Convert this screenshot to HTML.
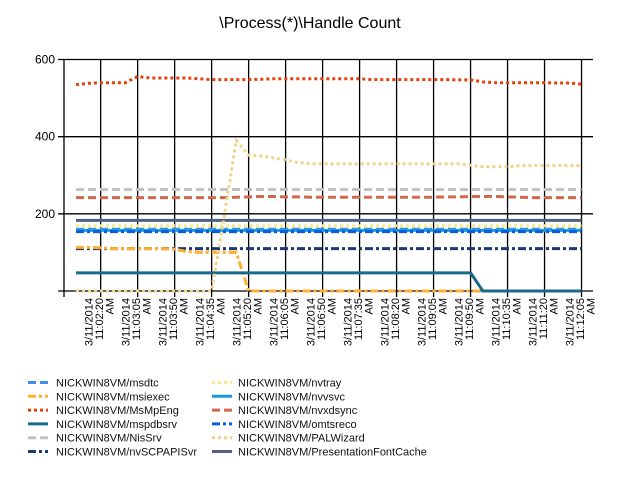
<!DOCTYPE html>
<html><head><meta charset="utf-8"><style>
body{margin:0;background:#fff;font-family:"Liberation Sans",sans-serif}
svg text{font-family:"Liberation Sans",sans-serif}
</style></head><body>
<svg id="c" width="620" height="480" xmlns="http://www.w3.org/2000/svg">
<text x="310" y="28" text-anchor="middle" font-size="16">\Process(*)\Handle Count</text>
<g id="grid"></g><g id="series"></g><g id="xlabels"></g><g id="legend"></g>
</svg>
<script>
const yTicks=[0,200,400,600];
const tickIdx=[2,5,8,11,14,17,20,23,26,29,32,35,38,41];
const tickTimes=["11:02:20","11:03:05","11:03:50","11:04:35","11:05:20","11:06:05","11:06:50","11:07:35","11:08:20","11:09:05","11:09:50","11:10:35","11:11:20","11:12:05"];
const names=["msdtc","msiexec","MsMpEng","mspdbsrv","NisSrv","nvSCPAPISvr","nvtray","nvvsvc","nvxdsync","omtsreco","PALWizard","PresentationFontCache"];
const vMsdtc=[160,160,160,160,160,160,160,160,160,160,160,160,160,160,160,160,160,160,160,160,160,160,160,160,160,160,160,160,160,160,160,160,160,160,160,160,160,160,160,160,160,160];
const vMsiexec=[113,113,112,110,110,110,110,110,108,102,100,100,100,100,0,0,0,0,0,0,0,0,0,0,0,0,0,0,0,0,0,0,0,0,0,0,0,0,0,0,0,0];
const vMsMpEng=[535,538,540,540,540,556,552,552,552,552,550,548,548,548,548,549,550,550,550,550,550,550,550,550,548,548,548,548,548,548,548,547,547,542,540,540,540,540,540,539,539,536];
const vMspdbsrv=[47,47,47,47,47,47,47,47,47,47,47,47,47,47,47,47,47,47,47,47,47,47,47,47,47,47,47,47,47,47,47,47,47,0,0,0,0,0,0,0,0,0];
const vNisSrv=[263,263,263,263,263,263,263,263,263,263,263,263,263,263,263,263,263,263,263,263,263,263,263,263,263,263,263,263,263,263,263,263,263,263,263,263,263,263,263,263,263,263];
const vNvSCPAPISvr=[110,110,110,110,110,110,110,110,110,110,110,110,110,110,110,110,110,110,110,110,110,110,110,110,110,110,110,110,110,110,110,110,110,110,110,110,110,110,110,110,110,110];
const vNvtray=[169,169,169,169,169,169,169,169,169,169,169,169,169,169,169,169,169,169,169,169,169,169,169,169,169,169,169,169,169,169,169,169,169,169,169,169,169,169,169,169,169,169];
const vNvvsvc=[157,157,157,157,157,157,157,157,157,157,157,157,157,157,157,157,157,157,157,157,157,157,157,157,157,157,157,157,157,157,157,157,157,157,157,157,157,157,157,157,157,157];
const vNvxdsync=[242,242,242,242,242,242,242,242,242,242,242,242,242,243,244,245,245,244,244,243,243,243,243,243,243,243,243,243,243,243,244,244,245,245,245,244,243,242,242,242,242,242];
const vOmtsreco=[154,154,154,154,154,154,154,154,154,154,154,154,154,154,154,154,154,154,154,154,154,154,154,154,154,154,154,154,154,154,154,154,154,154,154,154,154,154,154,154,154,154];
const vPALWizard=[0,0,0,0,0,0,0,0,0,0,0,0,190,390,352,350,345,340,333,330,330,330,330,330,330,330,330,330,330,330,330,330,326,322,322,322,325,325,325,325,325,325];
const vPFC=[183,183,183,183,183,183,183,183,183,183,183,183,183,183,183,183,183,183,183,183,183,183,183,183,183,183,183,183,183,183,183,183,183,183,183,183,183,183,183,183,183,183];

const vals=[vMsdtc,vMsiexec,vMsMpEng,vMspdbsrv,vNisSrv,vNvSCPAPISvr,vNvtray,vNvvsvc,vNvxdsync,vOmtsreco,vPALWizard,vPFC];
const colors=["#3f8fe8","#ffb030","#e8400c","#1a6a8c","#c0c0c0","#1c3a6e","#ffe88a","#1a9be0","#d0694a","#0a5fd8","#f2d38a","#4f6180"];
const dashes=["8,4","8,3,3,3","3,3","","8,4","8,3,3,3","3,3","","8,4","8,3,3,3","3,3",""];
const order=[4,8,2,11,6,0,7,9,5,1,3,10];
const NS="http://www.w3.org/2000/svg";
const L=64,R=593,T=59.5,B=291;
const xs=i=>76+i*12.33;
const ys=v=>B-(v/600)*(B-T);
function mk(tag,attrs,parent){const e=document.createElementNS(NS,tag);for(const k in attrs)e.setAttribute(k,attrs[k]);parent.appendChild(e);return e;}
const grid=document.getElementById('grid');
yTicks.forEach(v=>{
  const ln=mk('line',{x1:L-6,x2:R,y1:ys(v),y2:ys(v),stroke:'#000','stroke-width':1.3},grid);
  
  
  if(v>0){const t=mk('text',{x:L-9,y:ys(v)+4,'text-anchor':'end','font-size':12},grid);t.textContent=v;
  
  }
});
const lf=mk('line',{x1:L,x2:L,y1:T,y2:B+6,stroke:'#000','stroke-width':1.3},grid);


const xl=document.getElementById('xlabels');
tickIdx.forEach((ix,k)=>{
  const x=xs(ix);
  const g=mk('line',{x1:x,x2:x,y1:T,y2:B+6,stroke:'#000','stroke-width':1.3},grid);
  
  
  const lines=["3/11/2014",tickTimes[k],"AM"];
  lines.forEach((s,j)=>{
    const tx=x-8+j*10.5,ty=298;
    const t=mk('text',{x:tx,y:ty,'text-anchor':'end','font-size':11,transform:`rotate(-90 ${tx} ${ty})`},xl);
    t.textContent=s;
    
    
  });
});
const sg=document.getElementById('series');
order.forEach(si=>{
  const d=vals[si].map((v,i)=>(i?'L':'M')+xs(i).toFixed(1)+' '+ys(v).toFixed(1)).join(' ');
  const p=mk('path',{d:d,fill:'none',stroke:colors[si],'stroke-width':3,'stroke-dasharray':dashes[si]},sg);
  
  
});
const lg=document.getElementById('legend');
names.forEach((n,i)=>{
  const col=i<6?0:1,row=i%6;
  const bx=col?212:28,y=382.5+row*13.8;
  const ln=mk('line',{x1:bx,x2:bx+20,y1:y,y2:y,stroke:colors[i],'stroke-width':3,'stroke-dasharray':dashes[i]},lg);
  
  
  const t=mk('text',{x:col?238:56,y:y+4,'font-size':11,fill:'#111'},lg);
  t.textContent='NICKWIN8VM/'+n;
  
  
});
</script>
</body></html>
